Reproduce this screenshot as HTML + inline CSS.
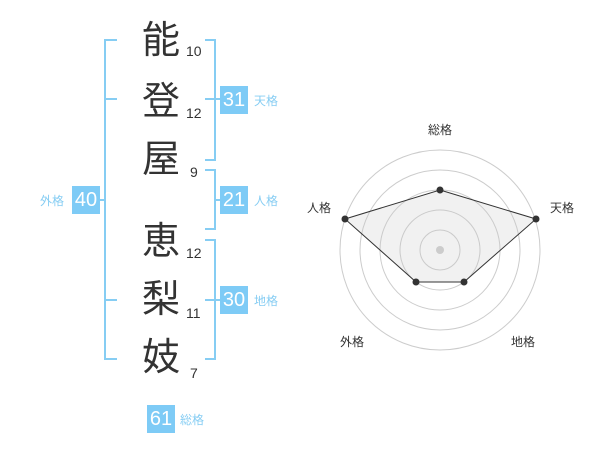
<!DOCTYPE html>
<html><head><meta charset="utf-8"><style>
html,body{margin:0;padding:0;background:#fff;width:600px;height:470px;overflow:hidden}
.c{position:absolute;font-family:"Liberation Sans","Noto Sans CJK JP",sans-serif;color:#333;font-size:38px;line-height:1;width:40px;text-align:center}
.n{position:absolute;font-family:"Liberation Sans",sans-serif;color:#333;font-size:14px;line-height:1}
.b{position:absolute;background:#7ecbf6;color:#fff;font-family:"Liberation Sans",sans-serif;font-size:20px;width:28px;height:28px;line-height:28px;text-align:center}
.l{position:absolute;color:#86cdf3;font-family:"Liberation Sans","Noto Sans CJK JP",sans-serif;font-size:12px;line-height:1}
.r{position:absolute;color:#333;font-family:"Liberation Sans","Noto Sans CJK JP",sans-serif;font-size:12px;line-height:1}
</style></head><body>
<svg width="600" height="470" style="position:absolute;left:0;top:0">
<g stroke="#86cdf3" stroke-width="2" fill="none">
<path d="M117 40H105V359H117M105 99H117M105 300H117"/>
<path d="M205 40H215V160H205M205 99H215"/>
<path d="M205 170H215V229H205M215 200H220"/>
<path d="M205 240H215V359H205M205 300H215"/>
<path d="M215 99H220M215 300H220M100 200H105"/>
</g>
<g fill="none" stroke="#ccc" stroke-width="1">
<circle cx="440" cy="250" r="20"/><circle cx="440" cy="250" r="40"/><circle cx="440" cy="250" r="60"/><circle cx="440" cy="250" r="80"/><circle cx="440" cy="250" r="100"/>
</g>
<polygon points="440,190 536,219 464,282 416,282 345,219" fill="rgba(200,200,200,0.25)" stroke="#333" stroke-width="1"/>
<circle cx="440" cy="250" r="4" fill="#ccc"/>
<g fill="#333"><circle cx="440" cy="190" r="3.5"/><circle cx="536" cy="219" r="3.5"/><circle cx="464" cy="282" r="3.5"/><circle cx="416" cy="282" r="3.5"/><circle cx="345" cy="219" r="3.5"/></g>
</svg>
<div class="c" style="left:141px;top:22px">能</div>
<div class="c" style="left:141px;top:83px">登</div>
<div class="c" style="left:141px;top:141px">屋</div>
<div class="c" style="left:141px;top:223px">恵</div>
<div class="c" style="left:141px;top:281px">梨</div>
<div class="c" style="left:141px;top:339px">妓</div>
<div class="n" style="left:186px;top:44px">10</div>
<div class="n" style="left:186px;top:106px">12</div>
<div class="n" style="left:190px;top:165px">9</div>
<div class="n" style="left:186px;top:246px">12</div>
<div class="n" style="left:186px;top:306px">11</div>
<div class="n" style="left:190px;top:366px">7</div>
<div class="b" style="left:220px;top:86px">31</div><div class="l" style="left:254px;top:95px">天格</div>
<div class="b" style="left:220px;top:186px">21</div><div class="l" style="left:254px;top:195px">人格</div>
<div class="b" style="left:220px;top:286px">30</div><div class="l" style="left:254px;top:295px">地格</div>
<div class="b" style="left:72px;top:186px">40</div><div class="l" style="left:40px;top:195px">外格</div>
<div class="b" style="left:147px;top:405px">61</div><div class="l" style="left:180px;top:414px">総格</div>
<div class="r" style="left:428px;top:124px">総格</div>
<div class="r" style="left:550px;top:202px">天格</div>
<div class="r" style="left:307px;top:202px">人格</div>
<div class="r" style="left:340px;top:336px">外格</div>
<div class="r" style="left:511px;top:336px">地格</div>
</body></html>
